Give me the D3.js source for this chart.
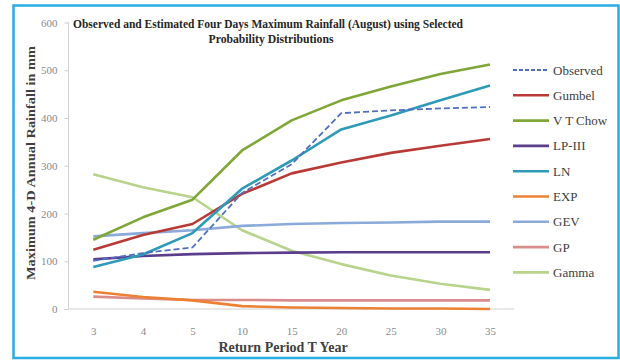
<!DOCTYPE html>
<html><head><meta charset="utf-8">
<script src="https://cdn.jsdelivr.net/npm/d3@7"></script>
<style>
html,body{margin:0;padding:0;background:#fff;}
svg{display:block;}
text{font-family:"Liberation Serif","Times New Roman",serif;}
</style></head>
<body><svg id="c" width="620" height="360"></svg>
<script>
const categories = ["3","4","5","10","15","20","25","30","35"];
const yTicks = [0,100,200,300,400,500,600];
const seriesNames = ["Observed","Gumbel","V T Chow","LP-III","LN","EXP","GEV","GP","Gamma"];
const observed = [101,117,129,243,303,410,416,420,423];
const gumbel   = [124,155,178,241,284,307,327,342,356];
const vtChow   = [145,192,229,332,395,437,466,492,512];
const lp3      = [104,111,115,117,118,119,119,119,119];
const ln       = [88,114,159,252,311,376,405,437,468];
const expD     = [36,25,18,6,3,2,1,1,0];
const gev      = [152,159,165,174,178,180,181,183,183];
const gp       = [26,22,19,19,18,18,18,18,18];
const gamma    = [282,255,234,165,122,94,70,53,40];
const seriesColors = ["#4F6FC0","#B83A36","#7FA637","#5B3D8C","#2E9AB8","#EC8133","#8AAADA","#D98C8A","#B8D38C"];

const data = [observed,gumbel,vtChow,lp3,ln,expD,gev,gp,gamma];

const svg = d3.select("#c");
// border
svg.append("rect").attr("x",13.5).attr("y",5.5).attr("width",605).attr("height",352.5)
  .attr("fill","none").attr("stroke","#2AACE2").attr("stroke-width",2.5);

const x = d3.scalePoint().domain(categories).range([93.3,490]);
const y = d3.scaleLinear().domain([0,600]).range([309,22.5]);

// y axis
const ya = svg.append("g").attr("transform","translate(68.5,0)")
  .call(d3.axisLeft(y).tickValues(yTicks).tickSize(4).tickPadding(7))
  .attr("font-family","'Liberation Serif',serif");
ya.select(".domain").attr("stroke","#D0D0D0").attr("d","M0,22.5V309");
ya.selectAll(".tick line").attr("stroke","#D0D0D0");
ya.selectAll(".tick text").attr("fill","#8A8A8A").style("font-size","11px");

// x axis
const xa = svg.append("g").attr("transform","translate(0,309)")
  .call(d3.axisBottom(x).tickSize(0).tickPadding(18))
  .attr("font-family","'Liberation Serif',serif");
xa.select(".domain").attr("stroke","#D0D0D0").attr("d","M68.5,0H514");
xa.selectAll(".tick text").attr("fill","#8A8A8A").style("font-size","11px");

// lines
const line = d3.line().x((d,i)=>x(categories[i])).y(d=>y(d));
const order = [8,7,5,6,3,1,2,4,0];
order.forEach(k=>{
  svg.append("path").datum(data[k]).attr("d",line).attr("fill","none")
    .attr("stroke",seriesColors[k]).attr("stroke-width",k===0?1.8:2.6)
    .attr("stroke-linejoin","round")
    .attr("stroke-dasharray",k===0?"6,3":null);
});

// legend
const lg = svg.append("g");
seriesNames.forEach((n,i)=>{
  const yy = 70 + i*25.3;
  lg.append("line").attr("x1",513).attr("x2",549).attr("y1",yy).attr("y2",yy)
    .attr("stroke",seriesColors[i]).attr("stroke-width",i===0?1.8:2.6)
    .attr("stroke-dasharray",i===0?"4,2":null);
  lg.append("text").attr("x",553).attr("y",yy+4.5).text(n)
    .attr("fill","#404040").style("font-size","13px");
});

// title
svg.append("text").attr("x",268).attr("y",28).attr("text-anchor","middle")
  .attr("font-weight","bold").attr("fill","#262626").style("font-size","13.5px")
  .attr("textLength",390).attr("lengthAdjust","spacingAndGlyphs")
  .text("Observed and Estimated Four Days Maximum Rainfall (August) using Selected");
svg.append("text").attr("x",271).attr("y",43).attr("text-anchor","middle")
  .attr("font-weight","bold").attr("fill","#262626").style("font-size","13.5px")
  .attr("textLength",125).attr("lengthAdjust","spacingAndGlyphs")
  .text("Probability Distributions");

// axis titles
svg.append("text").attr("x",283).attr("y",352).attr("text-anchor","middle")
  .attr("font-weight","bold").attr("fill","#404040").style("font-size","14px")
  .text("Return Period T Year");
svg.append("text").attr("transform","translate(35,163) rotate(-90)").attr("text-anchor","middle")
  .attr("font-weight","bold").attr("fill","#404040").style("font-size","13.5px")
  .attr("textLength",234).attr("lengthAdjust","spacingAndGlyphs")
  .text("Maximum 4-D Annual Rainfall in mm");
</script></body></html>
